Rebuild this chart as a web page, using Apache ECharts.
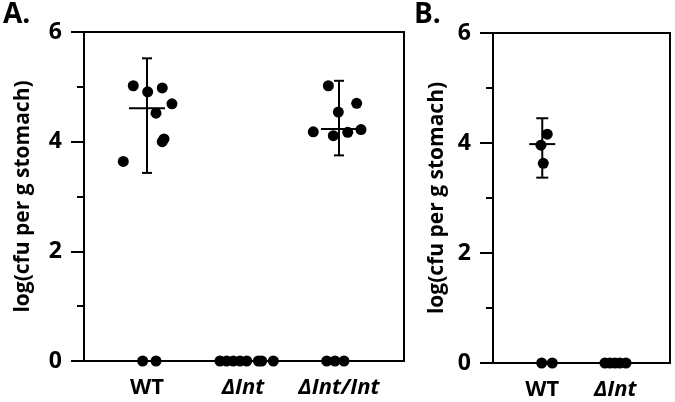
<!DOCTYPE html>
<html>
<head>
<meta charset="utf-8">
<script src="https://cdn.jsdelivr.net/npm/echarts@6/dist/echarts.min.js"></script>
<style>html,body{margin:0;padding:0;background:#fff}#c{width:675px;height:402px}</style>
</head>
<body>
<div id="c"></div>
<script>
// ---- Data ----
// Panel A
const catsA = ['WT', 'ΔInt', 'ΔInt/Int'];
const wtX_A = [0.857, 1.007, 1.159, 1.26, 1.094, 1.177, 1.159, 0.753, 0.955, 1.094];
const wtY_A = [5.02, 4.91, 4.98, 4.69, 4.52, 4.05, 4.00, 3.64, 0, 0];
const dIntX_A = [1.760, 1.830, 1.899, 1.969, 2.039, 2.160, 2.195, 2.316];
const dIntY_A = [0, 0, 0, 0, 0, 0, 0, 0];
const compX_A = [2.889, 2.993, 3.184, 2.732, 2.941, 3.091, 3.229, 2.872, 2.958, 3.052];
const compY_A = [5.02, 4.54, 4.70, 4.18, 4.11, 4.17, 4.22, 0, 0, 0];
const meanX_A = [1, 3];
const mean_A = [4.61, 4.23];
const lo_A = [3.43, 3.75];
const hi_A = [5.52, 5.11];
// Panel B
const catsB = ['WT', 'ΔInt'];
const wtX_B = [1.068, 0.982, 1.014, 0.992, 1.137];
const wtY_B = [4.16, 3.96, 3.63, 0, 0];
const dIntX_B = [1.859, 1.927, 1.996, 2.064, 2.147];
const dIntY_B = [0, 0, 0, 0, 0];
const meanX_B = [1];
const mean_B = [3.98];
const lo_B = [3.37];
const hi_B = [4.45];
const yTicks = [0, 2, 4, 6];
const yName = 'log(cfu per g stomach)';

// ---- helpers ----
const zip = (xs, ys) => xs.map((x, i) => [x, ys[i]]);
const FONT = '"Open Sans", "DejaVu Sans", sans-serif';
function errData(xs, m, lo, hi) { return xs.map((x, i) => [x, m[i], lo[i], hi[i]]); }
function errSeries(idx, data, meanHalf, capHalf) {
  return {
    type: 'custom', xAxisIndex: idx, yAxisIndex: idx, data: data, clip: false, z: 3,
    renderItem: function (params, api) {
      const x = api.value(0);
      const pM = api.coord([x, api.value(1)]);
      const pL = api.coord([x, api.value(2)]);
      const pH = api.coord([x, api.value(3)]);
      const st = { stroke: '#000', lineWidth: 2 };
      return { type: 'group', children: [
        { type: 'line', shape: { x1: pL[0], y1: pL[1], x2: pH[0], y2: pH[1] }, style: st },
        { type: 'line', shape: { x1: pL[0] - capHalf, y1: pL[1], x2: pL[0] + capHalf, y2: pL[1] }, style: st },
        { type: 'line', shape: { x1: pH[0] - capHalf, y1: pH[1], x2: pH[0] + capHalf, y2: pH[1] }, style: st },
        { type: 'line', shape: { x1: pM[0] - meanHalf, y1: pM[1], x2: pM[0] + meanHalf, y2: pM[1] }, style: st }
      ]};
    }
  };
}
function scat(idx, data) {
  return { type: 'scatter', xAxisIndex: idx, yAxisIndex: idx, data: data, symbol: 'circle', symbolSize: 11,
    clip: false, z: 4, itemStyle: { color: '#000', opacity: 1 } };
}
function catLabel(cats) {
  return function (v) {
    const s = cats[Math.round(v) - 1] || '';
    if (s.indexOf('Δ') === 0) return '{it|' + s + '}';
    return '{b|' + s + '}';
  };
}
const richLab = {
  b: { fontFamily: FONT, fontWeight: 'bold', fontSize: 22, color: '#000' },
  it: { fontFamily: FONT, fontWeight: 'bold', fontStyle: 'italic', fontSize: 22, color: '#000' }
};
function xAx(idx, gi, min, max, cats) {
  return { type: 'value', gridIndex: gi, min: min, max: max, splitLine: { show: false },
    axisLine: { show: true, lineStyle: { color: '#000', width: 2 } }, axisTick: { show: false },
    axisLabel: { show: true, customValues: cats.map((c, i) => i + 1), formatter: catLabel(cats), margin: 16, rich: richLab } };
}
function yAx(gi, gap) {
  return { type: 'value', gridIndex: gi, min: 0, max: 6, interval: 2, splitLine: { show: false },
    axisLine: { show: true, lineStyle: { color: '#000', width: 2 } },
    axisTick: { show: true, length: 13, lineStyle: { color: '#000', width: 2 }, customValues: yTicks },
    minorTick: { show: true, splitNumber: 2, length: 7, lineStyle: { color: '#000', width: 2 } },
    axisLabel: { customValues: yTicks, margin: 22, fontFamily: FONT, fontWeight: 'bold', fontSize: 23, color: '#000' },
    name: yName, nameLocation: 'middle', nameGap: gap,
    nameTextStyle: { fontFamily: FONT, fontWeight: 'bold', fontSize: 21, color: '#000' } };
}

const chart = echarts.init(document.getElementById('c'), null, { renderer: 'canvas' });
chart.setOption({
  backgroundColor: '#fff',
  animation: false,
  title: [
    { text: 'A.', left: -2, top: -4, textStyle: { fontFamily: FONT, fontWeight: 'bold', fontSize: 28, color: '#000' } },
    { text: 'B.', left: 409, top: -4, textStyle: { fontFamily: FONT, fontWeight: 'bold', fontSize: 28, color: '#000' } }
  ],
  grid: [
    { left: 84, right: 271, top: 32, bottom: 41, show: true, borderColor: '#000', borderWidth: 2, backgroundColor: 'transparent' },
    { left: 493, right: 5, top: 33, bottom: 39, show: true, borderColor: '#000', borderWidth: 2, backgroundColor: 'transparent' }
  ],
  xAxis: [ xAx(0, 0, 0.344, 3.677, catsA), xAx(1, 1, 0.325, 2.75, catsB) ],
  yAxis: [ yAx(0, 50), yAx(1, 45) ],
  series: [
    errSeries(0, errData(meanX_A, mean_A, lo_A, hi_A), 18, 5),
    errSeries(1, errData(meanX_B, mean_B, lo_B, hi_B), 13, 6),
    scat(0, zip(wtX_A, wtY_A)),
    scat(0, zip(dIntX_A, dIntY_A)),
    scat(0, zip(compX_A, compY_A)),
    scat(1, zip(wtX_B, wtY_B)),
    scat(1, zip(dIntX_B, dIntY_B))
  ]
});
</script>
</body>
</html>
